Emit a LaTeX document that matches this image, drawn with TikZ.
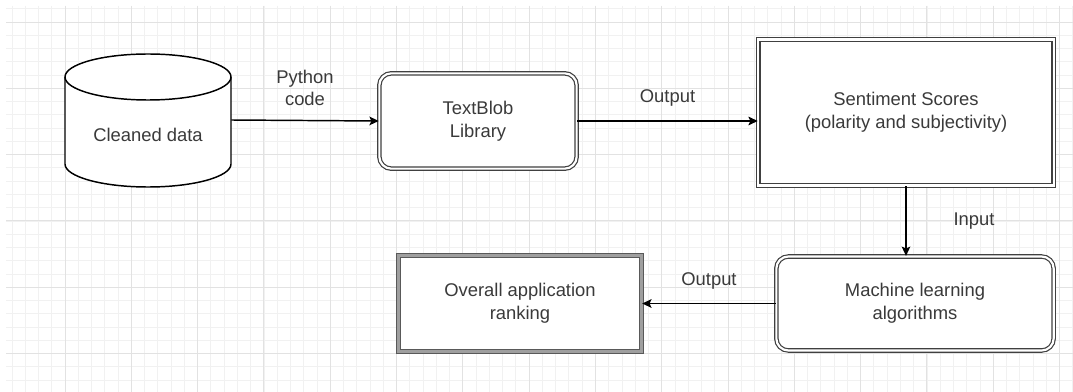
\documentclass[tikz,border=0pt]{standalone}
\usepackage{fontspec}
\setmainfont{Liberation Sans}
\usetikzlibrary{arrows.meta}
\definecolor{txt}{HTML}{3A3A3A}
\definecolor{gmin}{HTML}{F1F1F1}
\definecolor{gmaj}{HTML}{E2E2E2}
\begin{document}
\begin{tikzpicture}[x=0.75pt,y=-0.75pt,
  lbl/.style={font=\fontsize{13.8}{17}\selectfont, text=txt, align=center},
  box/.style={lbl, draw=black!75, line width=0.9pt, double=white, double distance=1.6pt, fill=white, inner sep=0pt},
  rbox/.style={box, rounded corners=9pt},
  heavy/.style={lbl, draw=black!65, line width=0.8pt, double=gray!75, double distance=1.8pt, fill=white, inner sep=0pt},
  conn/.style={line width=1.1pt, -{Stealth[length=7pt,width=6.5pt,inset=1.5pt]}}]
\fill[white] (0,0) rectangle (1073,392);
\useasboundingbox (0,0) rectangle (1073,392);
% grid
\begin{scope}
\clip (6,6) rectangle (1073,392);
\foreach \i in {0,...,80}{\pgfmathsetmacro\xx{11.96+13.26*\i}\draw[gmin, line width=0.6pt] (\xx,6) -- (\xx,392);}
\foreach \i in {0,...,29}{\pgfmathsetmacro\yy{8.74+13.26*\i}\draw[gmin, line width=0.6pt] (6,\yy) -- (1073,\yy);}
\foreach \i in {1,...,16}{\pgfmathsetmacro\xx{-1.3+66.3*\i}\draw[gmaj, line width=0.7pt] (\xx,6) -- (\xx,392);}
\foreach \i in {0,...,5}{\pgfmathsetmacro\yy{22+66.3*\i}\draw[gmaj, line width=0.7pt] (6,\yy) -- (1073,\yy);}
\end{scope}
% cylinder
\node[lbl, minimum width=124.5pt, minimum height=100.5pt, inner sep=0pt] (db) at (148,120) {};
\filldraw[fill=white, draw=black, line width=1.1pt] (65,77) -- (65,164) arc[start angle=180, end angle=0, x radius=83, y radius=23] -- (231,77);
\filldraw[fill=white, draw=black, line width=1.1pt] (148,77) ellipse [x radius=83, y radius=23];
\node[lbl] at (148,135) {Cleaned data};
% boxes
\node[rbox, minimum width=148pt, minimum height=71.5pt] (tb) at (478,121) {TextBlob\\Library};
\node[box, minimum width=221.5pt, minimum height=109.5pt] (ss) at (906,112.5) {Sentiment Scores\\(polarity and subjectivity)};
\node[rbox, minimum width=208pt, minimum height=70.5pt] (ml) at (915,303.5) {Machine learning\\algorithms};
\node[heavy, minimum width=182.5pt, minimum height=72pt] (rk) at (520,303.5) {Overall application\\ranking};
% connectors
\draw[conn] (db.east) -- node[lbl, midway, yshift=24.5pt] {Python\\code} (tb.west);
\draw[conn] (tb.east) -- node[lbl, midway, yshift=17pt] {Output} (tb.east -| ss.west);
\draw[conn] (ss.south) -- node[lbl, midway, xshift=51pt] {Input} (ss.south |- ml.north);
\draw[conn] (ml.west) -- node[lbl, midway, yshift=17pt] {Output} (rk.east);
\end{tikzpicture}
\end{document}
